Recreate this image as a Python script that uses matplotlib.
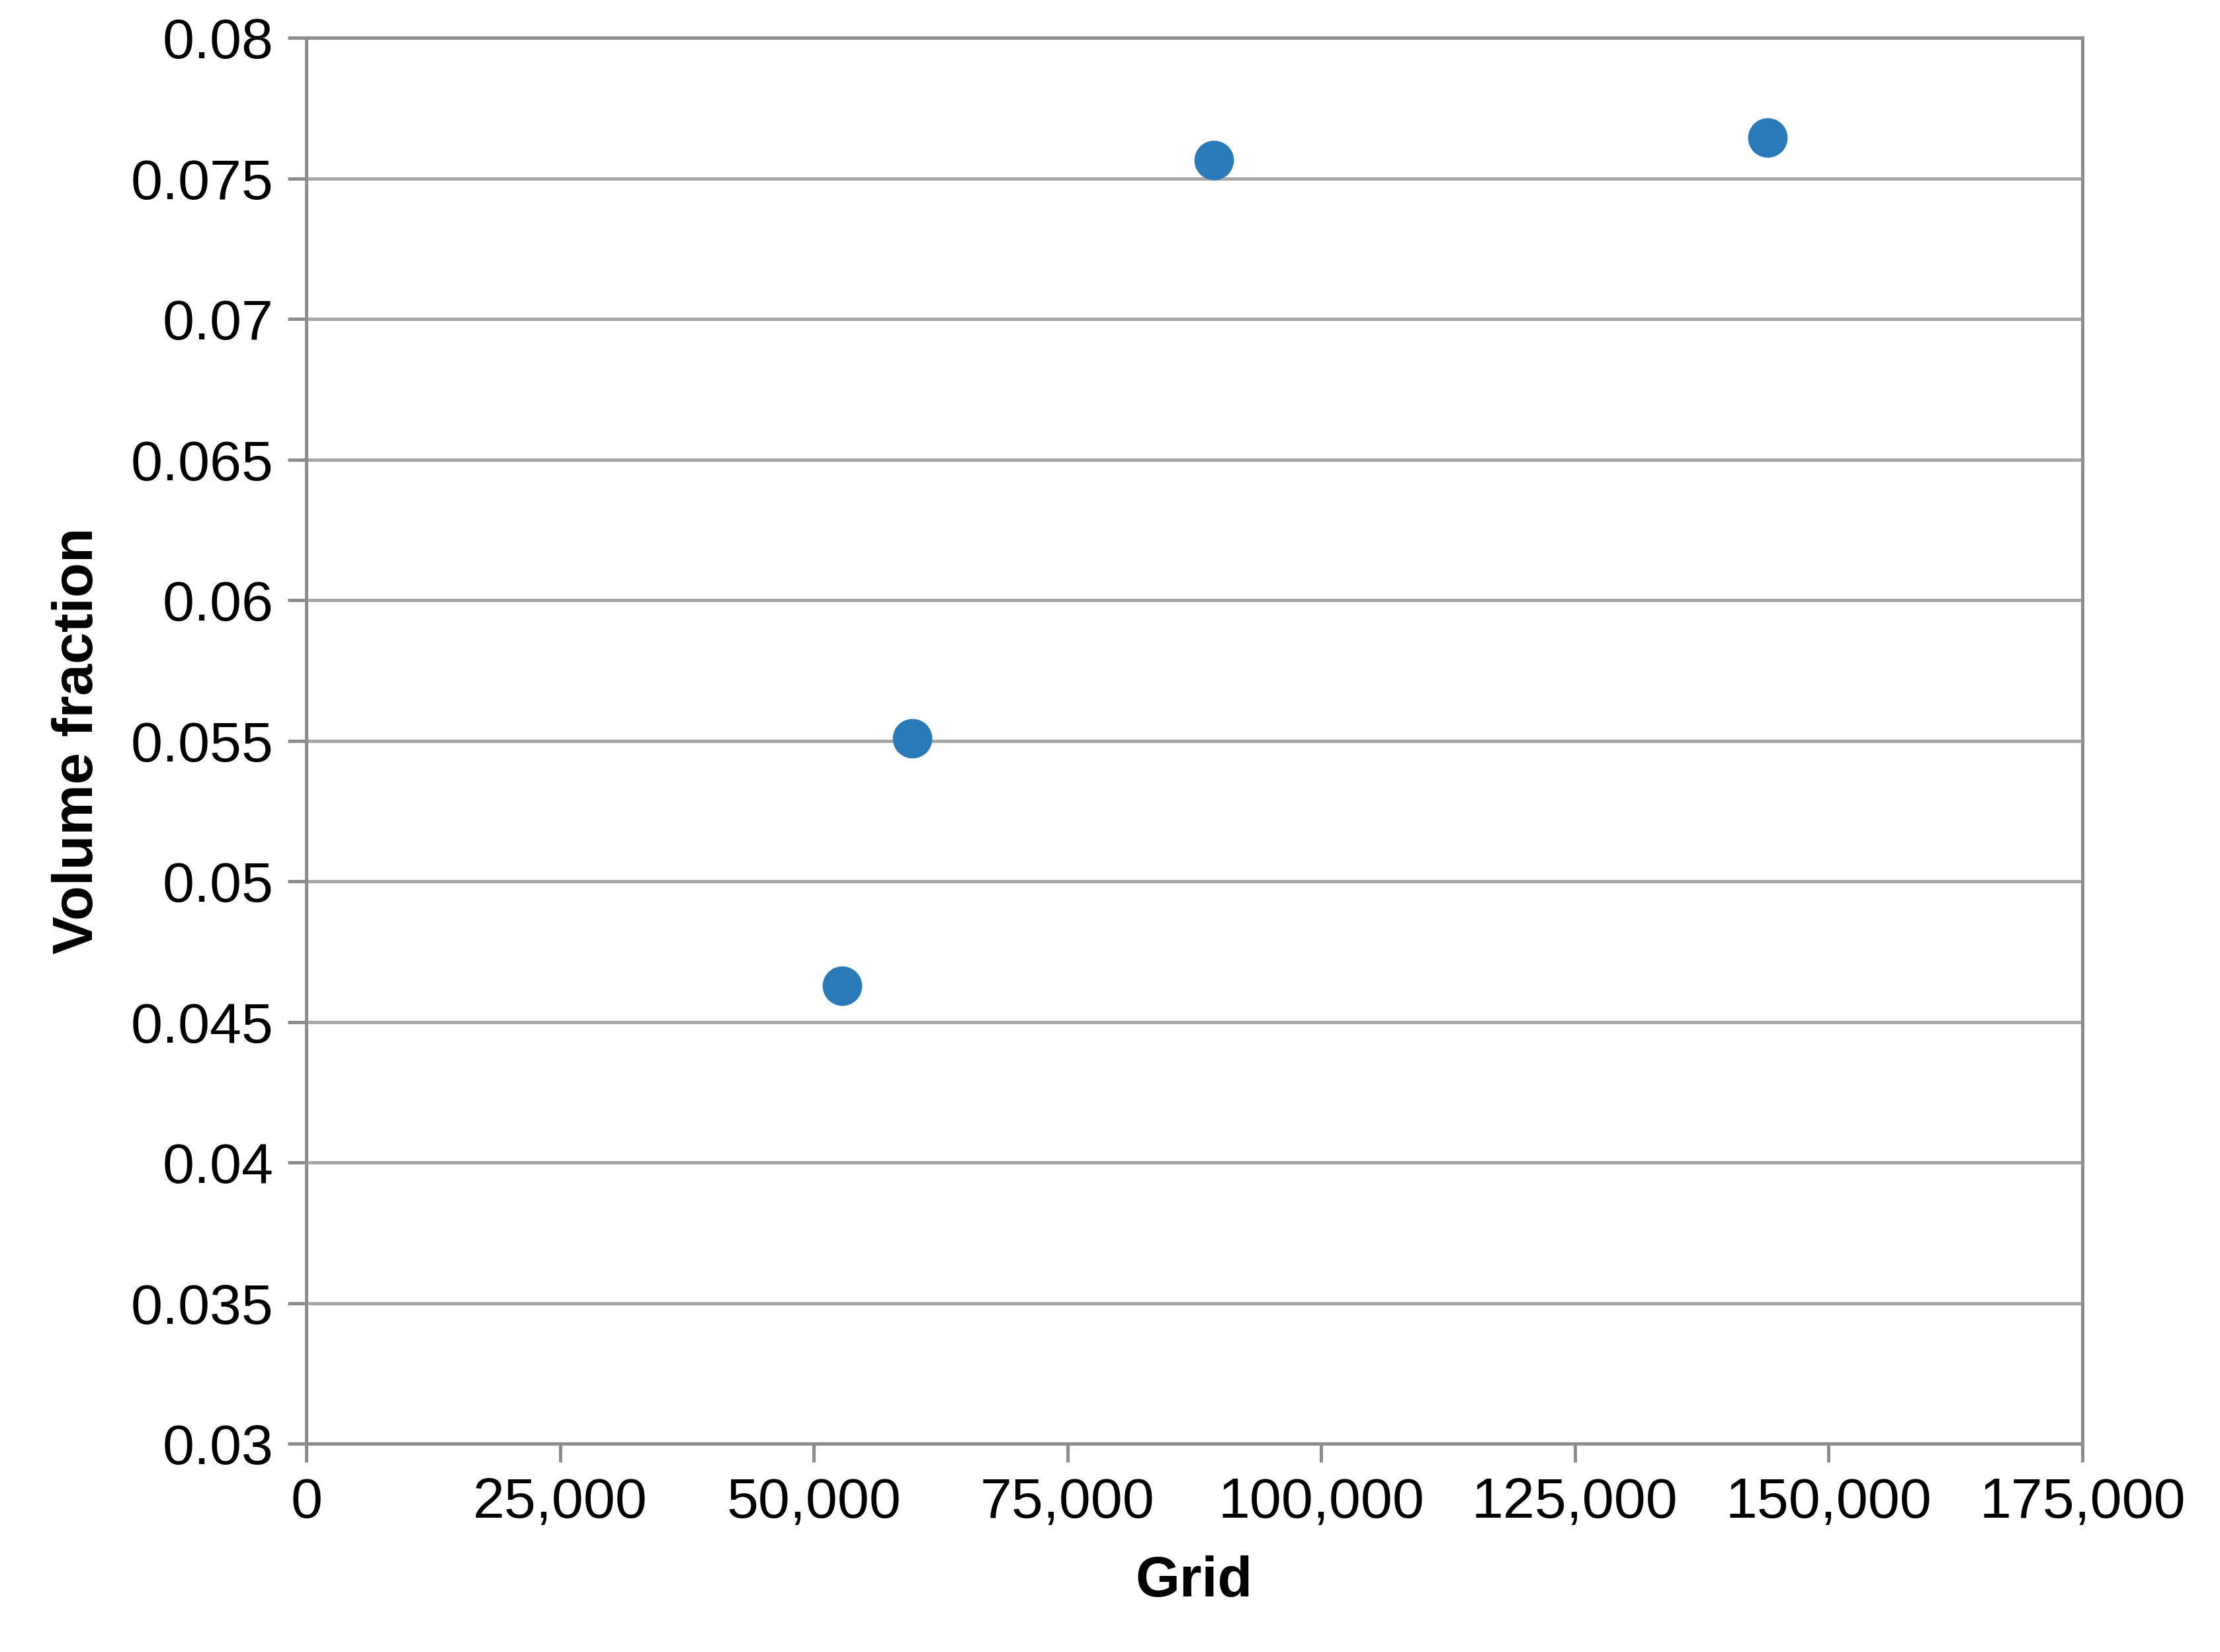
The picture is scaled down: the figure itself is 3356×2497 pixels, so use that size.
import matplotlib.pyplot as plt
from matplotlib.ticker import FuncFormatter

grid_cells = [52800, 59700, 89400, 144000]
volume_fraction = [0.0463, 0.0551, 0.07565, 0.07646]

plt.rcParams['font.family'] = ['Liberation Sans', 'DejaVu Sans']

fig = plt.figure(figsize=(16.78, 12.485), dpi=200)
ax = fig.add_axes([0.138, 0.126, 0.800, 0.851])

ax.scatter(grid_cells, volume_fraction, s=420, color='#2a7ab9', zorder=3)

ax.set_xlim(0, 175000)
ax.set_ylim(0.03, 0.08)
ax.set_xticks(range(0, 175001, 25000))
ax.set_yticks([0.03 + 0.005 * i for i in range(11)])
ax.xaxis.set_major_formatter(FuncFormatter(lambda v, p: '{:,.0f}'.format(v)))
ax.yaxis.set_major_formatter(FuncFormatter(lambda v, p: ('%.3f' % v).rstrip('0')))
ax.yaxis.grid(True, color='#a6a6a6', linewidth=1.8)
ax.set_axisbelow(True)
for s in ax.spines.values():
    s.set_color('#8c8c8c')
    s.set_linewidth(1.8)
ax.tick_params(axis='both', labelsize=31, length=10, width=1.8, color='#8c8c8c', pad=8)

ax.set_xlabel('Grid', fontsize=31, weight='bold', labelpad=14)
ax.set_ylabel('Volume fraction', fontsize=31, weight='bold', labelpad=14)

fig.savefig('out.png', dpi=200)
